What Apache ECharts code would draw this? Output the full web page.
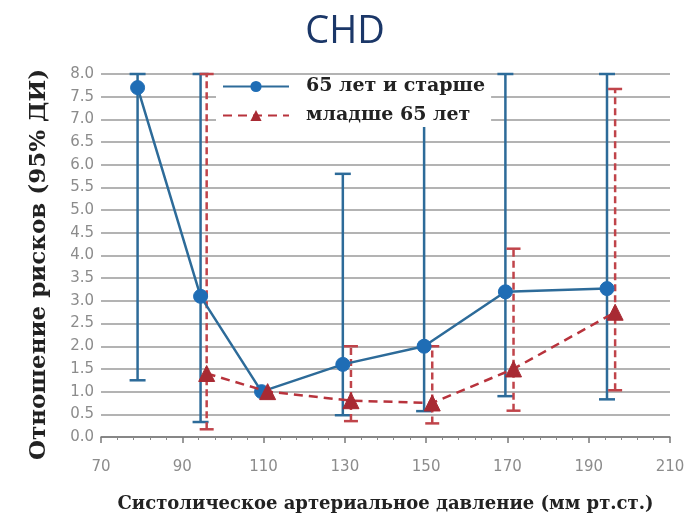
<!DOCTYPE html>
<html>
<head>
<meta charset="utf-8">
<script src="https://cdn.jsdelivr.net/npm/echarts@6/dist/echarts.min.js"></script>
<style>html,body{margin:0;padding:0;background:#fff}#c{width:690px;height:518px}</style>
</head>
<body>
<div id="c"></div>
<script>
// Data
const nameOld = '65 лет и старше';
const nameYoung = 'младше 65 лет';
const xOld   = [79, 94.5, 109.5, 129.5, 149.5, 169.5, 194.5];
const hrOld  = [7.7, 3.1, 1.0, 1.6, 2.0, 3.2, 3.27];
const loOld  = [1.25, 0.33, null, 0.48, 0.57, 0.9, 0.83];
const hiOld  = [8.0, 8.0, null, 5.8, 7.0, 8.0, 8.0];
const xYoung  = [96, 111, 131.5, 151.5, 171.5, 196.5];
const hrYoung = [1.4, 1.0, 0.8, 0.75, 1.5, 2.75];
const loYoung = [0.17, null, 0.35, 0.3, 0.58, 1.03];
const hiYoung = [8.0, null, 2.0, 2.0, 4.15, 7.67];
const xTicks = [70, 90, 110, 130, 150, 170, 190, 210];

const blueLine = '#2d6b99', blueDot = '#1f6db5';
const redLine = '#b8333c', redDot = '#a82a33';

function pairs(xs, ys) { return xs.map((x, i) => [x, ys[i]]); }
function errs(xs, lo, hi) {
  const out = [];
  xs.forEach((x, i) => { if (lo[i] != null && hi[i] != null) out.push([x, lo[i], hi[i]]); });
  return out;
}
function errRender(color, dashed, capW) {
  return function (params, api) {
    const x = api.value(0), lo = api.value(1), hi = api.value(2);
    const a = api.coord([x, lo]), b = api.coord([x, hi]);
    const st = { stroke: color, lineWidth: 2.5, lineDash: dashed ? [7, 4] : null };
    const cap = { stroke: color, lineWidth: 2.5 };
    return { type: 'group', children: [
      { type: 'line', shape: { x1: a[0], y1: a[1], x2: b[0], y2: b[1] }, style: st },
      { type: 'line', shape: { x1: a[0] - capW / 2, y1: a[1], x2: a[0] + capW / 2, y2: a[1] }, style: cap },
      { type: 'line', shape: { x1: b[0] - capW / 2, y1: b[1], x2: b[0] + capW / 2, y2: b[1] }, style: cap }
    ]};
  };
}

const chart = echarts.init(document.getElementById('c'), null, { renderer: 'canvas' });
chart.setOption({
  animation: false,
  backgroundColor: '#ffffff',
  title: {
    text: 'CHD', left: 'center', top: 8,
    textStyle: { fontFamily: 'Open Sans', fontWeight: 'normal', fontSize: 38, color: '#1b3768' }
  },
  legend: {
    data: [nameOld, nameYoung],
    orient: 'vertical', left: 216, top: 75,
    itemWidth: 66, itemHeight: 14, itemGap: 10,
    backgroundColor: '#ffffff', padding: [2, 6, 2, 6],
    textStyle: { fontFamily: 'DejaVu Serif', fontWeight: 'bold', fontSize: 19, color: '#222', padding: [0, 0, 0, 12] }
  },
  grid: { left: 101, right: 20, top: 74, bottom: 77 },
  xAxis: {
    type: 'value', min: 70, max: 210, interval: 20,
    name: 'Систолическое артериальное давление (мм рт.ст.)',
    nameLocation: 'middle', nameGap: 58,
    nameTextStyle: { fontFamily: 'DejaVu Serif', fontWeight: 'bold', fontSize: 18, color: '#222' },
    axisLine: { lineStyle: { color: '#7a7a7a', width: 1.5 } },
    axisTick: { show: true, length: 6, lineStyle: { color: '#7a7a7a', width: 1.5 } },
    minorTick: { show: true, splitNumber: 5, length: 3, lineStyle: { color: '#8a8a8a' } },
    splitLine: { show: false },
    axisLabel: { fontFamily: 'DejaVu Sans', fontSize: 15, color: '#8c8c8c', margin: 23,
      formatter: v => xTicks.includes(v) ? String(v) : '' }
  },
  yAxis: {
    type: 'value', min: 0, max: 8, interval: 0.5,
    name: 'Отношение рисков (95% ДИ)',
    nameLocation: 'middle', nameGap: 50,
    nameTextStyle: { fontFamily: 'DejaVu Serif', fontWeight: 'bold', fontSize: 23, color: '#222', padding: [0, 18, 0, 0] },
    axisLine: { show: false }, axisTick: { show: false },
    splitLine: { lineStyle: { color: '#9a9a9a', width: 1.5 } },
    axisLabel: { fontFamily: 'DejaVu Sans', fontSize: 15, color: '#8c8c8c', margin: 7,
      formatter: v => v.toFixed(1) }
  },
  series: [
    { type: 'custom', name: 'errOld', renderItem: errRender(blueLine, false, 16),
      data: errs(xOld, loOld, hiOld), encode: { x: 0, y: [1, 2] }, z: 2, silent: true },
    { type: 'custom', name: 'errYoung', renderItem: errRender('#c0444a', true, 14),
      data: errs(xYoung, loYoung, hiYoung), encode: { x: 0, y: [1, 2] }, z: 2, silent: true },
    { type: 'line', name: nameOld, data: pairs(xOld, hrOld),
      symbol: 'circle', symbolSize: 14, z: 4,
      lineStyle: { color: blueLine, width: 2.5 },
      itemStyle: { color: blueDot, borderColor: blueDot } },
    { type: 'line', name: nameYoung, data: pairs(xYoung, hrYoung),
      symbol: 'triangle', symbolSize: 16, z: 5,
      lineStyle: { color: redLine, width: 2.5, type: [9, 6] },
      itemStyle: { color: redDot, borderColor: redDot } }
  ]
});
</script>
</body>
</html>
